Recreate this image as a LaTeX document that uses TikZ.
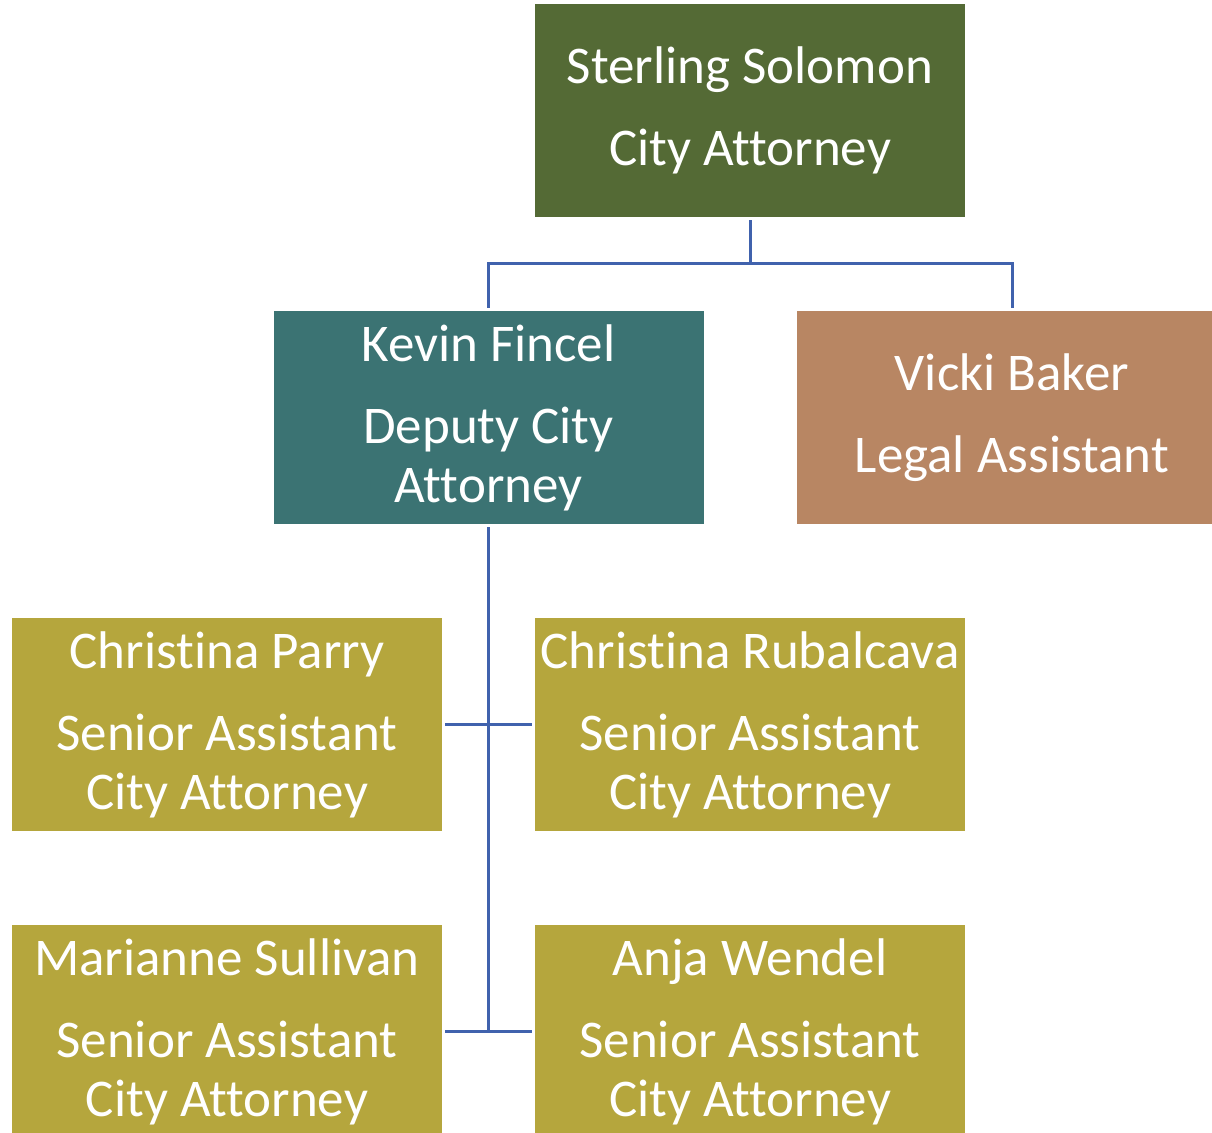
\documentclass[tikz,border=0pt]{standalone}
\usepackage{fontspec}
\setmainfont[Ligatures={NoCommon}]{Carlito}
\definecolor{chief}{HTML}{546A35}
\definecolor{deputy}{HTML}{3B7373}
\definecolor{legal}{HTML}{B88663}
\definecolor{senior}{HTML}{B5A63D}
\definecolor{link}{HTML}{4062AD}
\tikzset{
  post/.style={minimum width=215pt, minimum height=106.5pt, inner sep=0pt,
    text=white, align=center, font=\fontsize{26.5}{29.5}\selectfont},
  wire/.style={draw=link, line width=1.5pt, shorten <=1.5pt, shorten >=1.5pt}
}
\begin{document}
\begin{tikzpicture}[x=0.5pt,y=-0.5pt]
\useasboundingbox[fill=white] (0,0) rectangle (1212,1132);

% boxes
\node[post, fill=chief] (sol) at (750,110.5) {Sterling Solomon\\[11.5pt]City Attorney};
\node[post, fill=deputy] (fin) at (488.5,417.5) {Kevin Fincel\\[11.5pt]Deputy City\\Attorney};
\node[post, fill=legal] (bak) at (1012,417.5) {Vicki Baker\\[11.5pt]Legal Assistant};

\node[post, fill=senior] (par) at (227,724.5) {Christina Parry\\[11.5pt]Senior Assistant\\City Attorney};
\node[post, fill=senior] (rub) at (750,724.5) {Christina Rubalcava\\[11.5pt]Senior Assistant\\City Attorney};
\node[post, fill=senior] (sul) at (227,1031.5) {Marianne Sullivan\\[11.5pt]Senior Assistant\\City Attorney};
\node[post, fill=senior] (wen) at (750,1031.5) {Anja Wendel\\[11.5pt]Senior Assistant\\City Attorney};

% lines
\coordinate (hub) at (750,263);
\coordinate (foot) at (488.5,1031.5);
\draw[wire, shorten >=0pt] (sol.south) -- (hub);
\draw[wire, shorten <=0pt] (hub) -| (fin.north);
\draw[wire, shorten <=0pt] (hub) -| (bak.north);
\draw[wire, shorten >=0pt] (fin.south) -- (foot);
\draw[wire] (par.east) -- (rub.west);
\draw[wire] (sul.east) -- (wen.west);

\end{tikzpicture}
\end{document}
